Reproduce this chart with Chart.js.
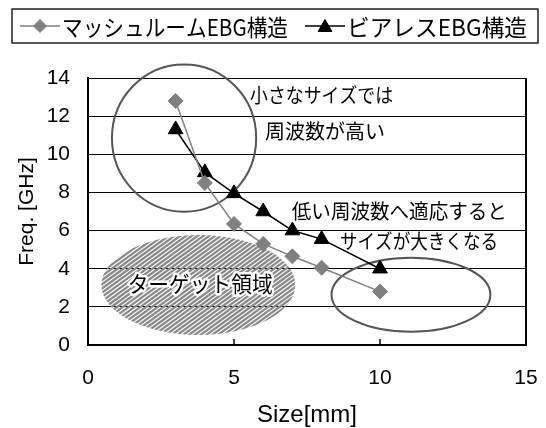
<!DOCTYPE html>
<html lang="ja">
<head>
<meta charset="utf-8">
<title>EBG構造のサイズと周波数</title>
<script src="https://cdn.jsdelivr.net/npm/chart.js@4/dist/chart.umd.min.js"></script>
<style>
  html, body { margin: 0; padding: 0; background: #fff; }
  #wrap { width: 546px; height: 428px; }
</style>
</head>
<body>
<div id="wrap"><canvas id="c" width="546" height="428"></canvas></div>
<script>
// Sizes [mm] of the unit cells
const sizes = [3, 4, 5, 6, 7, 8, 10];
// Resonant frequency [GHz] per structure
const mushroomFreq = [12.8, 8.5, 6.35, 5.3, 4.65, 4.05, 2.8];
const viaLessFreq = [11.3, 9.05, 7.95, 7.0, 6.0, 5.55, 4.0];
// Series names
const seriesNames = ['マッシュルームEBG構造', 'ビアレスEBG構造'];
// Axis ranges and tick steps
const xRange = [0, 15];
const yRange = [0, 14];
const xStep = 5;
const yStep = 2;

const FONT_LATIN = '"Liberation Sans", Arial, sans-serif';
const FONT_JP = '"Noto Sans CJK JP", "Noto Sans", sans-serif';

const toPoints = (xs, ys) => xs.map((x, i) => ({ x, y: ys[i] }));

// Small marker helper for the legend (uses the library's point renderer when present)
function marker(ctx, style, radius, color, x, y) {
  if (Chart.helpers && Chart.helpers.drawPoint) {
    ctx.save();
    ctx.fillStyle = color;
    ctx.strokeStyle = color;
    ctx.lineWidth = 1;
    Chart.helpers.drawPoint(ctx, { pointStyle: style, radius, rotation: 0, borderWidth: 1 }, x, y);
    ctx.restore();
  }
}

// Framed legend across the top: line + marker + label per series
const frameLegend = {
  id: 'frameLegend',
  afterDraw(chart) {
    const ctx = chart.ctx;
    const ds = chart.data.datasets;
    ctx.save();
    ctx.strokeStyle = '#222';
    ctx.lineWidth = 1.5;
    ctx.strokeRect(12, 9, 526, 34);
    const items = [
      { lineFrom: 20, lineTo: 60, textX: 62, textW: 226 },
      { lineFrom: 305, lineTo: 345, textX: 347, textW: 180 }
    ];
    const cy = 26;
    items.forEach((it, i) => {
      const d = ds[i];
      ctx.strokeStyle = d.borderColor;
      ctx.lineWidth = 1.5;
      ctx.beginPath();
      ctx.moveTo(it.lineFrom, cy);
      ctx.lineTo(it.lineTo, cy);
      ctx.stroke();
      marker(ctx, d.pointStyle, d.pointStyle === 'triangle' ? 8 : 6.5, d.pointBackgroundColor,
        (it.lineFrom + it.lineTo) / 2, cy + (d.pointStyle === 'triangle' ? 1.5 : 0));
      ctx.fillStyle = '#000';
      ctx.font = '23px ' + FONT_JP;
      ctx.textBaseline = 'middle';
      ctx.textAlign = 'left';
      ctx.fillText(d.label, it.textX, cy + 1, it.textW);
    });
    ctx.restore();
  }
};

// Right frame edge and inward x-axis tick marks
const plotFrame = {
  id: 'plotFrame',
  afterDatasetsDraw(chart) {
    const { ctx, chartArea: a, scales: { x } } = chart;
    ctx.save();
    ctx.strokeStyle = '#000';
    ctx.lineWidth = 2;
    ctx.beginPath();
    ctx.moveTo(a.right, a.top);
    ctx.lineTo(a.right, a.bottom + 1);
    ctx.stroke();
    ctx.lineWidth = 1.5;
    x.ticks.forEach(t => {
      if (t.value <= x.min || t.value >= x.max) return;
      const px = x.getPixelForValue(t.value);
      ctx.beginPath();
      ctx.moveTo(px, a.bottom);
      ctx.lineTo(px, a.bottom - 6);
      ctx.stroke();
    });
    ctx.restore();
  }
};

// Callout ellipses and notes, placed in data units
const callouts = {
  id: 'callouts',
  beforeDatasetsDraw(chart) {
    const { ctx, scales: { x, y } } = chart;
    const px = v => x.getPixelForValue(v);
    const py = v => y.getPixelForValue(v);
    const ux = v => Math.abs(x.getPixelForValue(v) - x.getPixelForValue(0));
    const uy = v => Math.abs(y.getPixelForValue(v) - y.getPixelForValue(0));

    // hatched target region
    const cx = px(3.78), cyy = py(3.15), rx = ux(3.32), ry = uy(2.62);
    ctx.save();
    ctx.beginPath();
    ctx.ellipse(cx, cyy, rx, ry, 0, 0, Math.PI * 2);
    ctx.clip();
    ctx.strokeStyle = '#8a8a8a';
    ctx.lineWidth = 2.3;
    const top = cyy - ry - 2, bot = cyy + ry + 2;
    const run = (bot - top) / Math.tan(36 * Math.PI / 180);
    for (let s = cx - rx - run - 10; s < cx + rx + 10; s += 5.8) {
      ctx.beginPath();
      ctx.moveTo(s, bot);
      ctx.lineTo(s + run, top);
      ctx.stroke();
    }
    ctx.restore();

    // outline ellipses
    ctx.save();
    ctx.strokeStyle = '#555';
    ctx.lineWidth = 2;
    ctx.beginPath();
    ctx.ellipse(px(3.29), py(10.85), ux(2.47), uy(3.86), 0, 0, Math.PI * 2);
    ctx.stroke();
    ctx.beginPath();
    ctx.ellipse(px(11.06), py(2.64), ux(2.72), uy(1.94), 0, 0, Math.PI * 2);
    ctx.stroke();
    ctx.restore();
  },
  afterDatasetsDraw(chart) {
    const { ctx, scales: { x, y } } = chart;
    const px = v => x.getPixelForValue(v);
    const py = v => y.getPixelForValue(v);
    ctx.save();
    ctx.textBaseline = 'middle';
    ctx.fillStyle = '#000';
    ctx.font = '20px ' + FONT_JP;
    ctx.textAlign = 'left';
    ctx.fillText('小さなサイズでは', px(5.55), py(13.11), 143);
    ctx.fillText('周波数が高い', px(6.06), py(11.19), 122);
    ctx.fillText('低い周波数へ適応すると', px(6.98), py(6.99), 215);
    ctx.fillText('サイズが大きくなる', px(8.63), py(5.42), 158);

    // label inside the hatched region, with a white halo
    ctx.font = '22px ' + FONT_JP;
    ctx.textAlign = 'center';
    ctx.lineJoin = 'round';
    ctx.strokeStyle = '#fff';
    ctx.lineWidth = 5;
    ctx.strokeText('ターゲット領域', px(3.84), py(3.2), 145);
    ctx.fillText('ターゲット領域', px(3.84), py(3.2), 145);
    ctx.restore();
  }
};

new Chart(document.getElementById('c'), {
  type: 'scatter',
  data: {
    datasets: [
      {
        label: seriesNames[0],
        data: toPoints(sizes, mushroomFreq),
        showLine: true,
        borderColor: '#808080',
        borderWidth: 1.5,
        pointStyle: 'rectRot',
        pointRadius: 7.5,
        pointHoverRadius: 7.5,
        pointBackgroundColor: '#808080',
        pointBorderColor: '#808080',
        pointBorderWidth: 1
      },
      {
        label: seriesNames[1],
        data: toPoints(sizes, viaLessFreq),
        showLine: true,
        borderColor: '#000',
        borderWidth: 1.5,
        pointStyle: 'triangle',
        pointRadius: 8.5,
        pointHoverRadius: 8.5,
        pointBackgroundColor: '#000',
        pointBorderColor: '#000',
        pointBorderWidth: 1
      }
    ]
  },
  options: {
    responsive: false,
    animation: false,
    events: [],
    layout: { padding: { top: 78, right: 20, left: 0, bottom: 0 } },
    plugins: {
      legend: { display: false },
      tooltip: { enabled: false }
    },
    scales: {
      x: {
        type: 'linear',
        min: xRange[0],
        max: xRange[1],
        afterFit: s => { s.height = 83; s.paddingLeft = 0; s.paddingRight = 0; },
        ticks: {
          stepSize: xStep,
          padding: 21,
          color: '#000',
          font: { family: FONT_LATIN, size: 21 }
        },
        grid: { display: false, drawTicks: false },
        border: { display: true, color: '#000', width: 2 },
        title: {
          display: true,
          text: 'Size[mm]',
          color: '#000',
          font: { family: FONT_LATIN, size: 24, lineHeight: 1 },
          padding: { top: 0, bottom: 1 }
        }
      },
      y: {
        type: 'linear',
        min: yRange[0],
        max: yRange[1],
        afterFit: s => { s.width = 88; s.paddingTop = 0; s.paddingBottom = 0; },
        ticks: {
          stepSize: yStep,
          padding: 18,
          color: '#000',
          font: { family: FONT_LATIN, size: 21 }
        },
        grid: { color: '#000', lineWidth: 1, drawTicks: false },
        border: { display: true, color: '#000', width: 2 },
        title: {
          display: true,
          text: 'Freq. [GHz]',
          color: '#000',
          font: { family: FONT_LATIN, size: 21 },
          padding: { top: 15, bottom: 0 }
        }
      }
    }
  },
  plugins: [callouts, plotFrame, frameLegend]
});
</script>
</body>
</html>
